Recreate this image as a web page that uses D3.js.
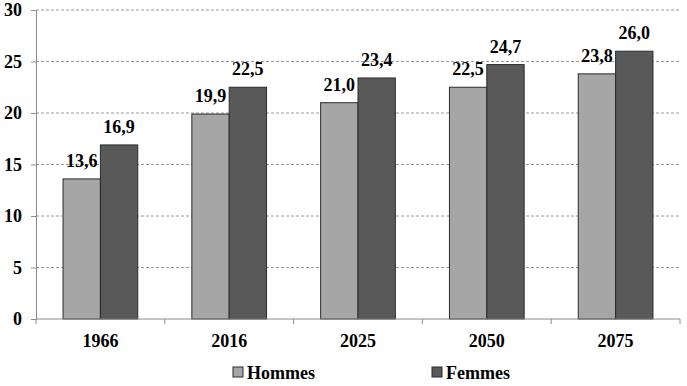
<!DOCTYPE html>
<html>
<head>
<meta charset="utf-8">
<script src="https://cdn.jsdelivr.net/npm/d3@7"></script>
<style>
  body { margin: 0; background: #fff; }
</style>
</head>
<body>
<div id="chart"></div>
<script>
// Data
const years = ["1966", "2016", "2025", "2050", "2075"];
const series = ["Hommes", "Femmes"];
const hommes = [13.6, 19.9, 21.0, 22.5, 23.8];
const femmes = [16.9, 22.5, 23.4, 24.7, 26.0];
const yTicks = [0, 5, 10, 15, 20, 25, 30];

const colors = { Hommes: "#a6a6a6", Femmes: "#595959" };
const FONT = "'Liberation Serif'";

const W = 687, H = 386;
const margin = { top: 10, right: 7, bottom: 67, left: 36 };
const width = W - margin.left - margin.right;
const height = H - margin.top - margin.bottom;

const svg = d3.select("#chart")
    .append("svg")
    .attr("width", W)
    .attr("height", H)
    .append("g")
    .attr("transform", "translate(" + margin.left + "," + margin.top + ")");

const x = d3.scaleBand()
    .domain(years)
    .range([0, width])
    .paddingInner(0.42)
    .paddingOuter(0.21);

const xs = d3.scaleBand()
    .domain(series)
    .range([0, x.bandwidth()]);

const y = d3.scaleLinear()
    .domain([0, 30])
    .range([height, 0]);

// dashed gridlines
svg.append("g")
    .selectAll("line")
    .data(yTicks.filter(d => d > 0))
    .enter()
    .append("line")
    .attr("x1", 0)
    .attr("x2", width)
    .attr("y1", d => y(d))
    .attr("y2", d => y(d))
    .attr("stroke", "#9a9a9a")
    .attr("stroke-width", 1)
    .attr("stroke-dasharray", "3,2");

// y axis
const yAxis = svg.append("g")
    .call(d3.axisLeft(y).tickValues(yTicks).tickSize(5).tickPadding(9));
yAxis.attr("font-family", null).attr("font-size", null);
yAxis.select(".domain").attr("stroke", "#8c8c8c");
yAxis.selectAll(".tick line").attr("stroke", "#8c8c8c");
yAxis.selectAll("text")
    .attr("fill", "#000")
    .style("font-family", FONT)
    .style("font-weight", "bold")
    .style("font-size", "18px");

// bars
const rows = years.map((yr, i) => ({ year: yr, Hommes: hommes[i], Femmes: femmes[i] }));

const groups = svg.selectAll(".grp")
    .data(rows)
    .enter()
    .append("g")
    .attr("class", "grp")
    .attr("transform", d => "translate(" + x(d.year) + ",0)");

groups.selectAll("rect")
    .data(d => series.map(s => ({ key: s, value: d[s] })))
    .enter()
    .append("rect")
    .attr("x", d => xs(d.key))
    .attr("y", d => y(d.value))
    .attr("width", xs.bandwidth())
    .attr("height", d => height - y(d.value))
    .attr("fill", d => colors[d.key])
    .attr("stroke", "#2b2b2b")
    .attr("stroke-width", 1);

groups.selectAll(".lbl")
    .data(d => series.map(s => ({ key: s, value: d[s] })))
    .enter()
    .append("text")
    .attr("class", "lbl")
    .attr("x", d => xs(d.key) + xs.bandwidth() / 2)
    .attr("y", d => y(d.value) - 12)
    .attr("text-anchor", "middle")
    .style("font-family", FONT)
    .style("font-weight", "bold")
    .style("font-size", "18px")
    .text(d => d3.format(".1f")(d.value).replace(".", ","));

// x axis with ticks between categories
const xAxisG = svg.append("g")
    .attr("transform", "translate(0," + height + ")");
xAxisG.append("line")
    .attr("x1", 0).attr("x2", width)
    .attr("stroke", "#8c8c8c");
xAxisG.selectAll(".sep")
    .data(years.map((d, i) => i).concat([years.length]))
    .enter()
    .append("line")
    .attr("x1", i => i * width / years.length)
    .attr("x2", i => i * width / years.length)
    .attr("y1", 0).attr("y2", 5)
    .attr("stroke", "#8c8c8c");
xAxisG.selectAll(".cat")
    .data(years)
    .enter()
    .append("text")
    .attr("x", d => x(d) + x.bandwidth() / 2)
    .attr("y", 28)
    .attr("text-anchor", "middle")
    .style("font-family", FONT)
    .style("font-weight", "bold")
    .style("font-size", "18px")
    .text(d => d);

// legend
const legendX = [197, 396];
const legend = svg.append("g")
    .attr("transform", "translate(0," + (height + 53) + ")");
const items = legend.selectAll(".item")
    .data(series)
    .enter()
    .append("g")
    .attr("transform", (d, i) => "translate(" + legendX[i] + ",0)");
items.append("rect")
    .attr("x", 0).attr("y", -5)
    .attr("width", 10).attr("height", 10)
    .attr("fill", d => colors[d])
    .attr("stroke", "#2b2b2b");
items.append("text")
    .attr("x", 14)
    .attr("y", 7)
    .style("font-family", FONT)
    .style("font-weight", "bold")
    .style("font-size", "18px")
    .text(d => d);
</script>
</body>
</html>
